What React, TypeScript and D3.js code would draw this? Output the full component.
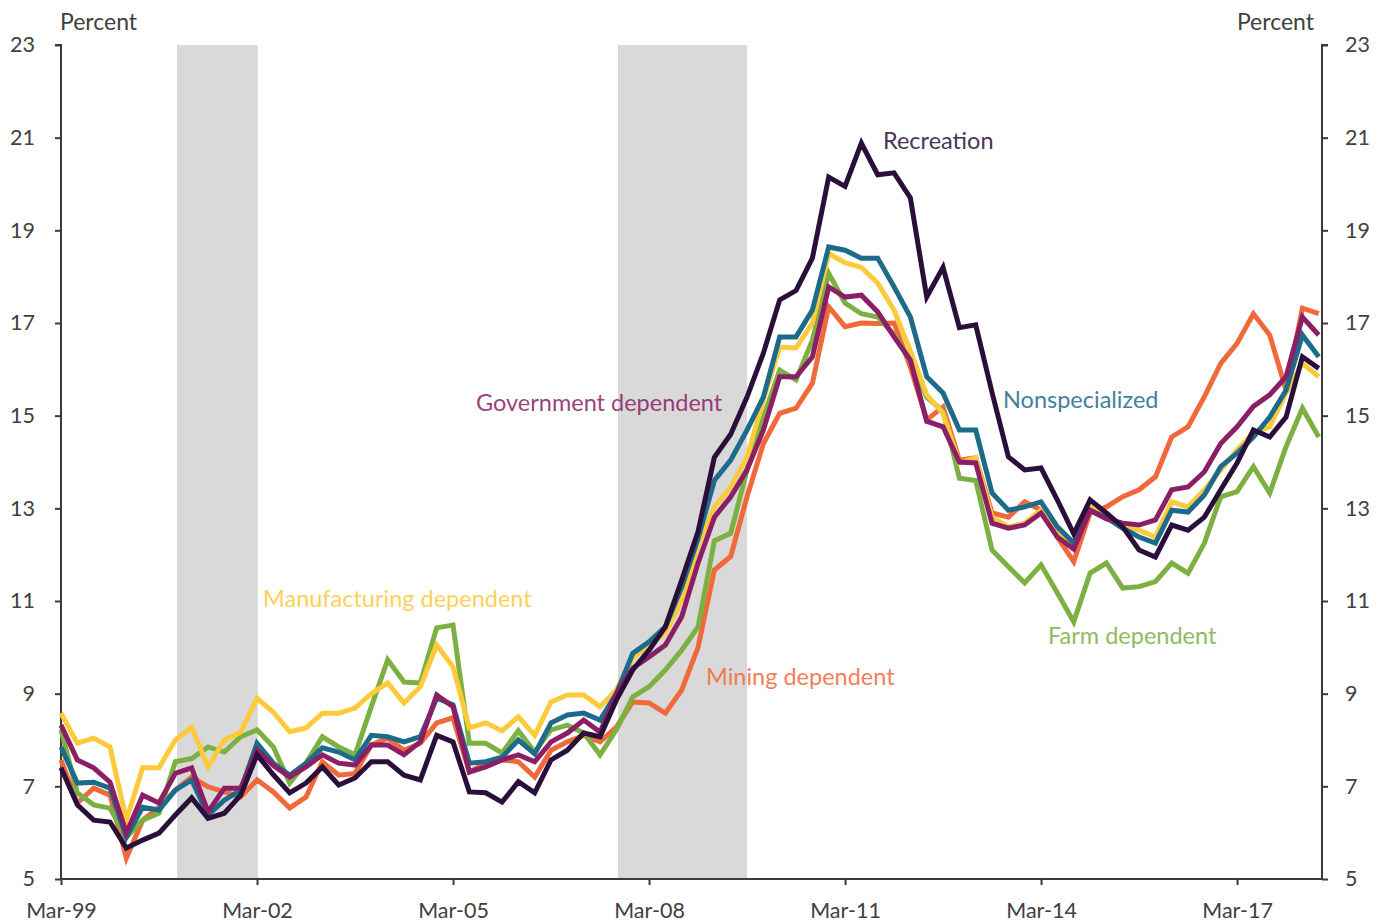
import React, { useEffect, useRef } from 'react';
import * as d3 from 'd3';

// quarterly data, Mar-99 (index 0) through Jun-18 (index 77)
const tickLabels = ['Mar-99', 'Mar-02', 'Mar-05', 'Mar-08', 'Mar-11', 'Mar-14', 'Mar-17'];
const tickIndex = [0, 12, 24, 36, 48, 60, 72];
const yTicks = [5, 7, 9, 11, 13, 15, 17, 19, 21, 23];

// shaded recession periods, in quarter index units
const recessions = [[7.1, 12.05], [34.1, 42.0]];

const mining = [7.57, 6.64, 6.96, 6.81, 5.45, 6.27, 6.55, 6.92, 7.2, 6.99, 6.88, 6.77, 7.14,
  6.88, 6.53, 6.77, 7.53, 7.24, 7.28, 7.89, 8.04, 7.78, 7.93, 8.37, 8.48,
  7.31, 7.5, 7.57, 7.53, 7.2, 7.78, 7.96, 8.1, 7.96, 8.28, 8.82, 8.8, 8.58, 9.08,
  10.0, 11.67, 11.96, 13.25, 14.4, 15.05, 15.16, 15.7, 17.35, 16.92, 17.0, 16.99,
  17.0, 16.05, 14.91, 15.19, 14.04, 14.09, 12.9, 12.81, 13.14, 12.96, 12.38, 11.85,
  12.9, 13.03, 13.25, 13.4, 13.68, 14.54, 14.76, 15.41, 16.13, 16.56, 17.2, 16.74, 15.55, 17.32, 17.2];

const farm = [8.22, 6.86, 6.6, 6.53, 5.9, 6.27, 6.42, 7.53, 7.6, 7.85, 7.74, 8.07, 8.22,
  7.85, 7.07, 7.5, 8.07, 7.85, 7.68, 8.72, 9.73, 9.25, 9.23, 10.42, 10.48,
  7.93, 7.93, 7.72, 8.2, 7.74, 8.22, 8.32, 8.15, 7.68, 8.22, 8.93, 9.15, 9.51, 9.94,
  10.44, 12.3, 12.46, 13.83, 14.97, 15.98, 15.77, 16.63, 18.07, 17.43, 17.2, 17.13,
  16.75, 16.2, 15.4, 15.1, 13.65, 13.6, 12.1, 11.74, 11.39, 11.78, 11.17, 10.55,
  11.6, 11.82, 11.28, 11.31, 11.42, 11.82, 11.6, 12.25, 13.25, 13.36, 13.9, 13.33, 14.33, 15.16, 14.54];

const manufacturing = [8.58, 7.93, 8.04, 7.85, 6.27, 7.4, 7.4, 8.0, 8.28, 7.42, 8.0, 8.17, 8.9,
  8.6, 8.18, 8.26, 8.58, 8.58, 8.69, 9.0, 9.23, 8.8, 9.15, 10.05, 9.58,
  8.26, 8.37, 8.2, 8.5, 8.1, 8.82, 8.97, 8.97, 8.72, 9.08, 9.77, 10.05, 10.31, 11.02,
  12.2, 13.03, 13.46, 14.1, 15.35, 16.48, 16.46, 17.0, 18.5, 18.3, 18.2, 17.86,
  17.28, 16.4, 15.45, 15.05, 13.98, 14.09, 12.81, 12.6, 12.68, 12.96, 12.46, 12.25,
  13.03, 12.8, 12.6, 12.53, 12.38, 13.14, 13.03, 13.4, 13.83, 14.26, 14.63, 14.76, 15.49, 16.13, 15.84];

const nonspecialized = [7.85, 7.07, 7.09, 6.96, 5.9, 6.55, 6.49, 6.92, 7.14, 6.38, 6.7, 6.92, 7.93,
  7.5, 7.24, 7.5, 7.83, 7.74, 7.57, 8.1, 8.07, 7.96, 8.07, 8.9, 8.76,
  7.5, 7.53, 7.63, 8.0, 7.7, 8.37, 8.54, 8.58, 8.43, 9.0, 9.87, 10.12, 10.44, 11.3,
  12.35, 13.6, 14.04, 14.69, 15.4, 16.7, 16.7, 17.28, 18.64, 18.57, 18.4, 18.4,
  17.78, 17.13, 15.84, 15.49, 14.69, 14.69, 13.33, 12.96, 13.03, 13.14, 12.6, 12.25,
  12.96, 12.8, 12.57, 12.38, 12.25, 12.96, 12.92, 13.29, 13.9, 14.19, 14.54, 14.97, 15.55, 16.74, 16.27];

const government = [8.32, 7.57, 7.4, 7.09, 5.99, 6.81, 6.64, 7.28, 7.4, 6.45, 6.96, 6.96, 7.78,
  7.45, 7.2, 7.42, 7.68, 7.5, 7.46, 7.89, 7.89, 7.68, 7.96, 8.97, 8.72,
  7.31, 7.42, 7.57, 7.68, 7.53, 7.96, 8.15, 8.43, 8.17, 9.0, 9.55, 9.79, 10.05, 10.66,
  11.82, 12.81, 13.25, 13.83, 14.69, 15.84, 15.84, 16.27, 17.78, 17.56, 17.6, 17.24,
  16.7, 16.2, 14.88, 14.76, 14.0, 13.98, 12.68, 12.57, 12.64, 12.9, 12.38, 12.12,
  12.96, 12.77, 12.68, 12.64, 12.75, 13.4, 13.46, 13.79, 14.4, 14.76, 15.2, 15.45, 15.84, 17.13, 16.74];

const recreation = [7.4, 6.6, 6.27, 6.23, 5.67, 5.84, 5.99, 6.38, 6.75, 6.31, 6.42, 6.81, 7.68,
  7.25, 6.86, 7.07, 7.42, 7.03, 7.18, 7.53, 7.53, 7.24, 7.14, 8.1, 7.96,
  6.88, 6.86, 6.66, 7.1, 6.86, 7.57, 7.78, 8.15, 8.07, 8.86, 9.51, 9.94, 10.44, 11.45,
  12.5, 14.1, 14.6, 15.4, 16.35, 17.5, 17.7, 18.4, 20.15, 19.95, 20.88, 20.2,
  20.24, 19.7, 17.56, 18.2, 16.9, 16.96, 15.5, 14.11, 13.83, 13.87, 13.18, 12.45,
  13.18, 12.9, 12.6, 12.1, 11.95, 12.64, 12.53, 12.81, 13.4, 13.98, 14.69, 14.54, 14.97, 16.27, 16.02];

// drawing order: last one ends up on top
const seriesList = [
  { name: 'Mining dependent', values: mining, color: '#f0693a', label: [706, 685] },
  { name: 'Farm dependent', values: farm, color: '#7db042', label: [1048, 644] },
  { name: 'Manufacturing dependent', values: manufacturing, color: '#fdca3b', label: [263, 607] },
  { name: 'Nonspecialized', values: nonspecialized, color: '#1d6b8a', label: [1003, 408] },
  { name: 'Government dependent', values: government, color: '#8b1f66', label: [476, 411] },
  { name: 'Recreation', values: recreation, color: '#2a0f3b', label: [883, 149] },
];

const W = 1386;
const H = 923;
const margin = { top: 45, right: 64, bottom: 44, left: 61 };
const font = 'Lato, "Open Sans", sans-serif';
const axisColor = '#3a3a3a';
const textColor = '#404040';

const drawChart = (node) => {
  const svg = d3.select(node);
  svg.selectAll('*').remove();

  const x = d3.scaleLinear().domain([0, 77.2]).range([margin.left, W - margin.right]);
  const y = d3.scaleLinear().domain([5, 23]).range([H - margin.bottom, margin.top]);

  // recession shading
  svg.append('g')
    .selectAll('rect')
    .data(recessions)
    .enter()
    .append('rect')
    .attr('x', (d) => x(d[0]))
    .attr('y', y(23))
    .attr('width', (d) => x(d[1]) - x(d[0]))
    .attr('height', y(5) - y(23))
    .attr('fill', '#d9d9d9');

  // axes
  const left = svg.append('g').attr('transform', `translate(${x.range()[0]},0)`)
    .call(d3.axisLeft(y).tickValues(yTicks).tickSize(6).tickPadding(20));
  const right = svg.append('g').attr('transform', `translate(${x.range()[1]},0)`)
    .call(d3.axisRight(y).tickValues(yTicks).tickSize(6).tickPadding(17));
  const bottom = svg.append('g').attr('transform', `translate(0,${y(5)})`)
    .call(d3.axisBottom(x).tickValues(tickIndex).tickFormat((d, i) => tickLabels[i])
      .tickSize(6).tickPadding(18));

  [left, right, bottom].forEach((g) => {
    g.select('.domain').attr('stroke', axisColor).attr('stroke-width', 2);
    g.selectAll('.tick line').attr('stroke', axisColor).attr('stroke-width', 2);
    g.selectAll('.tick text')
      .attr('fill', textColor)
      .style('font-family', font)
      .style('font-size', '21.5px');
  });
  left.select('.domain').attr('d', `M-6,${y(23)}H0V${y(5)}`);
  right.select('.domain').attr('d', `M6,${y(23)}H0V${y(5)}`);
  bottom.select('.domain').attr('d', `M${x.range()[0]},0H${x.range()[1]}`);

  // series lines
  const line = d3.line()
    .x((d, i) => x(i))
    .y((d) => y(d));

  svg.append('g')
    .selectAll('path')
    .data(seriesList)
    .enter()
    .append('path')
    .attr('d', (s) => line(s.values))
    .attr('fill', 'none')
    .attr('stroke', (s) => s.color)
    .attr('stroke-width', 5)
    .attr('stroke-linejoin', 'miter')
    .attr('stroke-miterlimit', 4);

  // series labels
  svg.append('g')
    .selectAll('text')
    .data(seriesList)
    .enter()
    .append('text')
    .attr('x', (s) => s.label[0])
    .attr('y', (s) => s.label[1])
    .attr('fill', (s) => s.color)
    .attr('opacity', 0.85)
    .style('font-family', font)
    .style('font-size', '23.5px')
    .text((s) => s.name);

  // unit captions
  svg.append('text')
    .attr('x', 60).attr('y', 30)
    .attr('fill', textColor)
    .style('font-family', font).style('font-size', '23px')
    .text('Percent');
  svg.append('text')
    .attr('x', 1314).attr('y', 30)
    .attr('text-anchor', 'end')
    .attr('fill', textColor)
    .style('font-family', font).style('font-size', '23px')
    .text('Percent');
};

const App = () => {
  const ref = useRef(null);

  useEffect(() => {
    drawChart(ref.current);
  }, []);

  return (
    <svg
      ref={ref}
      width={W}
      height={H}
      style={{ position: 'absolute', left: 0, top: 0, background: '#fff' }}
    />
  );
};

export default App;
